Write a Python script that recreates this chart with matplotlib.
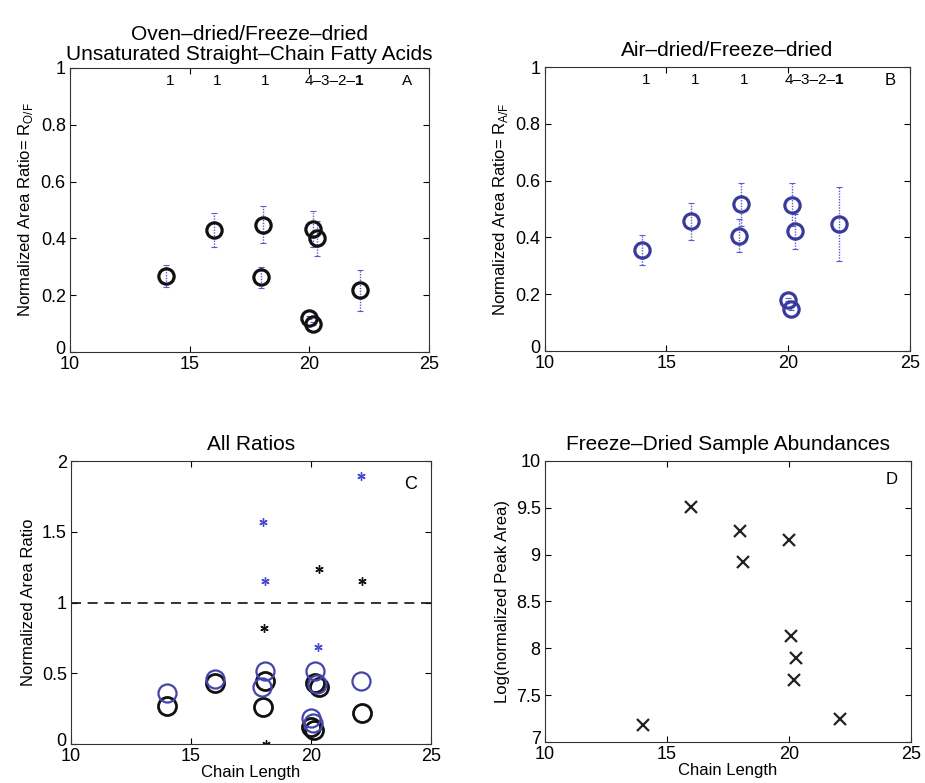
import numpy as np
import matplotlib
matplotlib.use('Agg')
import matplotlib.pyplot as plt
from matplotlib.transforms import ScaledTranslation

plt.rcParams['font.family'] = ['Liberation Sans', 'DejaVu Sans']

# chain length positions (slightly offset where isomers overlap)
x_a = [14.0, 16.0, 18.08, 18.0, 20.17, 20.33, 20.0, 20.14, 22.12]
r_of = [0.267, 0.430, 0.447, 0.265, 0.432, 0.400, 0.121, 0.100, 0.218]
r_of_lo = [0.230, 0.370, 0.385, 0.227, 0.370, 0.338, 0.115, 0.095, 0.145]
r_of_hi = [0.305, 0.490, 0.514, 0.300, 0.498, 0.460, 0.127, 0.105, 0.290]

x_b = [14.0, 16.0, 18.08, 17.97, 20.16, 20.27, 19.99, 20.1, 22.08]
r_af = [0.357, 0.457, 0.516, 0.406, 0.515, 0.423, 0.181, 0.149, 0.446]
r_af_lo = [0.304, 0.392, 0.440, 0.349, 0.440, 0.360, 0.175, 0.143, 0.317]
r_af_hi = [0.407, 0.521, 0.593, 0.466, 0.593, 0.484, 0.187, 0.155, 0.577]

# single-replicate ratios (stars) in panel C
x_star_k = [18.03, 20.32, 22.13, 18.12]
y_star_k = [0.82, 1.24, 1.152, 0.0]
x_star_b = [17.99, 18.1, 20.29, 22.08]
y_star_b = [1.571, 1.154, 0.688, 1.896]

# freeze-dried abundances
x_d = [14.03, 16.01, 17.99, 18.13, 20.0, 20.08, 20.29, 20.2, 22.09]
log_area = [7.18, 9.51, 9.25, 8.92, 9.16, 8.13, 7.90, 7.66, 7.25]

bond_x = [14.18, 16.16, 18.17]
dark_blue = '#3a3a9a'
err_col = '#5a5ad8'


def style_axes(ax, yticks):
    ax.tick_params(direction='in', top=True, right=True, labelsize=13,
                   length=4, pad=3)
    for s in ax.spines.values():
        s.set_color('#333333')
        s.set_linewidth(0.8)
    ax.set_xlim(10, 25)
    ax.set_xticks([10, 15, 20, 25])
    ax.set_ylim(yticks[0], yticks[-1])
    ax.set_yticks(yticks)
    ax.set_yticklabels(['%g' % t for t in yticks])
    # lift the lowest y label a little off the x labels (as in MATLAB)
    lbl = ax.get_yticklabels()[0]
    lbl.set_transform(lbl.get_transform() +
                      ScaledTranslation(0, 3 / 72, fig.dpi_scale_trans))


def bond_labels(ax):
    for bx in bond_x:
        ax.text(bx, 0.953, '1', ha='center', va='center', fontsize=11)
    ax.text(21.93, 0.953, '4–3–2–', ha='right', va='center', fontsize=11)
    ax.text(21.93, 0.953, '1', ha='left', va='center', fontsize=11,
            fontweight='bold')


def dotted_errorbars(ax, x, y, lo, hi):
    y = np.array(y)
    eb = ax.errorbar(x, y, yerr=[y - np.array(lo), np.array(hi) - y],
                     fmt='none', ecolor=err_col, elinewidth=1.0, capsize=2,
                     capthick=0.8)
    for lc in eb[2]:
        lc.set_linestyle((0, (1, 1)))


fig = plt.figure(figsize=(9.25, 7.83), dpi=100)
axA = fig.add_axes([0.0757, 0.5504, 0.388, 0.3628])
axB = fig.add_axes([0.589, 0.5517, 0.3946, 0.3627])
axC = fig.add_axes([0.0768, 0.0498, 0.389, 0.3614])
axD = fig.add_axes([0.589, 0.0524, 0.3957, 0.3589])

# A
dotted_errorbars(axA, x_a, r_of, r_of_lo, r_of_hi)
axA.plot(x_a, r_of, 'o', mfc='none', mec='#111111', ms=11, mew=2.3)
style_axes(axA, [0, 0.2, 0.4, 0.6, 0.8, 1])
axA.set_ylabel('Normalized Area Ratio= R$_{\\mathregular{O/F}}$', fontsize=12)
axA.set_title('Oven–dried/Freeze–dried\nUnsaturated Straight–Chain Fatty Acids',
              fontsize=15, pad=6, linespacing=1.05)
bond_labels(axA)
axA.text(24.1, 0.953, 'A', ha='center', va='center', fontsize=11)

# B
dotted_errorbars(axB, x_b, r_af, r_af_lo, r_af_hi)
axB.plot(x_b, r_af, 'o', mfc='none', mec=dark_blue, ms=11, mew=2.3)
style_axes(axB, [0, 0.2, 0.4, 0.6, 0.8, 1])
axB.set_ylabel('Normalized Area Ratio= R$_{\\mathregular{A/F}}$', fontsize=12)
axB.set_title('Air–dried/Freeze–dried', fontsize=15, pad=8)
bond_labels(axB)
axB.text(24.18, 0.953, 'B', ha='center', va='center', fontsize=12)

# C
axC.axhline(1, color='#111111', linestyle='--', lw=1.2, dashes=(6, 4))
axC.plot(x_a, r_of, 'o', mfc='none', mec='#111111', ms=13, mew=2.0)
axC.plot(x_b, r_af, 'o', mfc='none', mec='#4444aa', ms=13, mew=1.6)
axC.plot(x_star_k, y_star_k, marker=(6, 2, 0), ls='none', color='#111111',
         ms=6, mew=1.0)
axC.plot(x_star_b, y_star_b, marker=(6, 2, 0), ls='none', color='#4a4ad0',
         ms=6, mew=1.0)
style_axes(axC, [0, 0.5, 1, 1.5, 2])
axC.set_ylabel('Normalized Area Ratio', fontsize=12)
axC.set_xlabel('Chain Length', fontsize=12, labelpad=0)
axC.set_title('All Ratios', fontsize=15, pad=8)
axC.text(24.14, 1.835, 'C', ha='center', va='center', fontsize=13)

# D
axD.plot(x_d, log_area, 'x', color='#222222', ms=8, mew=1.6)
style_axes(axD, [7, 7.5, 8, 8.5, 9, 9.5, 10])
axD.set_ylabel('Log(normalized Peak Area)', fontsize=12)
axD.set_xlabel('Chain Length', fontsize=12, labelpad=0)
axD.set_title('Freeze–Dried Sample Abundances', fontsize=15, pad=8)
axD.text(24.2, 9.8, 'D', ha='center', va='center', fontsize=12)

fig.savefig('out.png', dpi=100)
